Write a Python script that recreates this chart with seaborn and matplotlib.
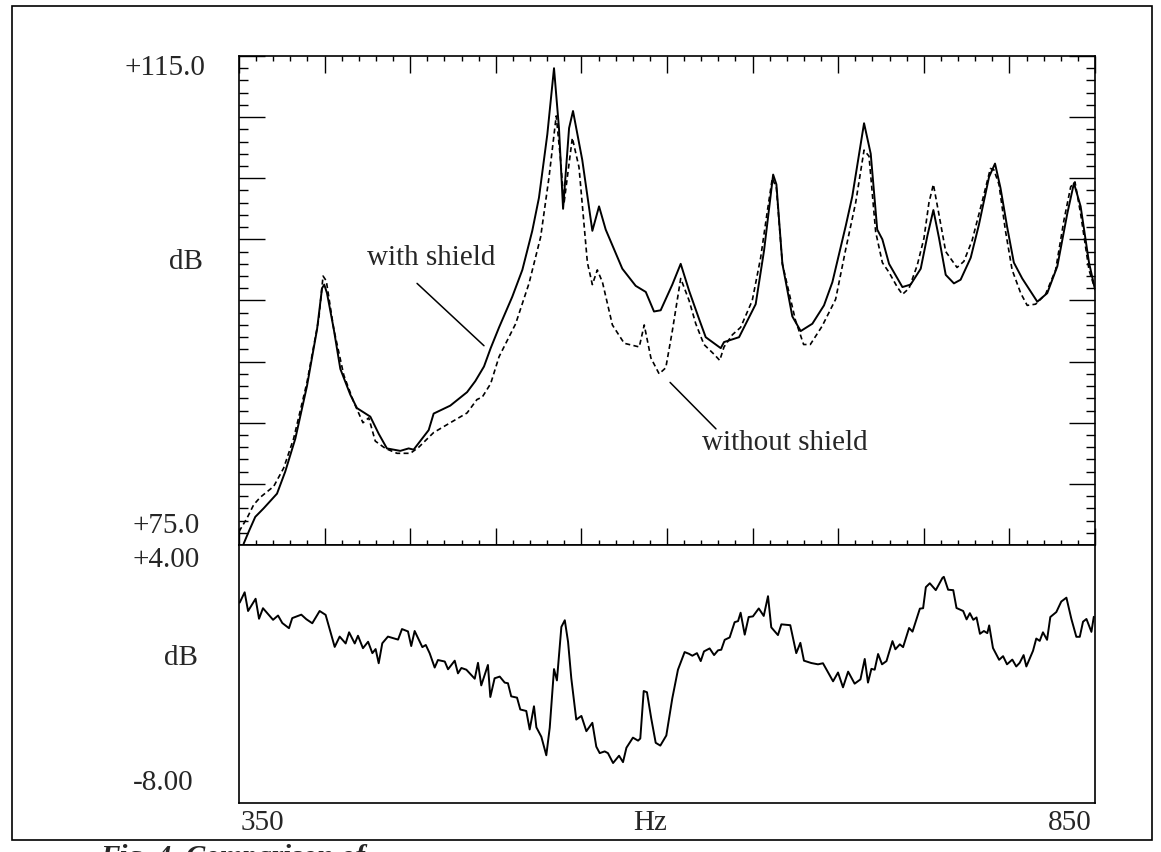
import matplotlib
matplotlib.use("Agg")
import matplotlib.pyplot as plt
import matplotlib.ticker as mticker
from matplotlib.patches import Rectangle
import seaborn as sns
import pandas as pd

# "with shield" spectrum (solid), Hz / dB
with_hz = [352.7, 355.7, 359.5, 364.4, 372.2, 377.0, 382.9, 389.7, 395.6, 398.5,
           399.8, 401.4, 405.3, 409.2, 415.0, 418.9, 426.7, 431.6, 436.4, 444.2,
           449.1, 452.0, 460.8, 463.7, 473.4, 483.2, 488.0, 493.1, 497.0, 501.9,
           509.6, 515.5, 521.3, 525.2, 530.1, 534.0, 536.9, 539.3, 542.8, 545.1,
           550.5, 556.4, 560.3, 564.2, 573.9, 581.7, 587.6, 592.4, 596.3, 603.1,
           608.0, 612.9, 618.7, 622.6, 631.4, 633.3, 642.1, 651.8, 656.7, 662.0,
           663.9, 667.4, 673.2, 678.1, 684.9, 691.7, 696.6, 704.4, 708.2, 715.1,
           719.0, 722.8, 725.8, 729.7, 737.5, 742.3, 748.2, 752.1, 755.6, 758.9,
           762.8, 767.6, 771.5, 777.4, 782.2, 788.1, 791.6, 794.8, 798.7, 802.6,
           807.5, 816.3, 822.1, 828.0, 833.8, 837.7, 841.6, 846.5, 850.0]
with_db = [75.1, 76.1, 77.3, 78.0, 79.2, 81.0, 83.7, 88.0, 92.65, 96.0,
           96.3, 95.6, 92.7, 89.4, 87.3, 86.2, 85.5, 84.1, 82.9, 82.7,
           82.9, 82.8, 84.4, 85.75, 86.4, 87.5, 88.4, 89.6, 91.1, 92.8,
           95.3, 97.5, 100.7, 103.4, 108.6, 114.0, 109.1, 102.5, 109.1, 110.5,
           106.5, 100.7, 102.7, 100.8, 97.6, 96.2, 95.7, 94.1, 94.2, 96.3,
           98.0, 95.8, 93.5, 92.0, 91.1, 91.6, 92.0, 94.7, 99.1, 105.3,
           104.5, 98.0, 93.7, 92.5, 93.1, 94.6, 96.5, 101.1, 103.5, 109.5,
           107.0, 100.8, 100.0, 98.0, 96.1, 96.3, 97.6, 100.3, 102.4, 100.1,
           97.1, 96.4, 96.7, 98.5, 101.2, 105.1, 106.2, 104.2, 101.0, 98.1,
           96.8, 94.9, 95.6, 97.8, 102.1, 104.6, 102.7, 98.1, 95.9]

# "without shield" spectrum (dashed)
without_hz = [350.0, 354.7, 358.6, 362.4, 370.3, 376.1, 381.9, 389.7, 396.6, 399.1,
              401.0, 405.3, 411.2, 417.0, 422.4, 425.8, 429.6, 435.5, 442.3, 450.1,
              455.0, 463.7, 473.4, 483.2, 489.0, 492.1, 497.0, 501.9, 511.6, 519.4,
              526.2, 531.1, 535.3, 537.9, 539.8, 544.7, 548.6, 553.5, 556.4, 559.3,
              562.3, 568.1, 575.0, 583.8, 586.7, 590.6, 595.4, 599.3, 603.1, 608.0,
              612.9, 616.8, 621.6, 627.5, 630.8, 633.3, 638.2, 643.0, 649.8, 654.7,
              658.6, 661.5, 663.9, 667.4, 675.0, 679.8, 683.7, 690.6, 698.5, 704.4,
              710.2, 715.1, 718.0, 721.9, 725.8, 729.7, 734.5, 737.5, 741.4, 746.2,
              750.1, 753.0, 755.6, 758.9, 762.8, 769.4, 773.4, 778.2, 784.1, 788.9,
              790.9, 793.9, 797.7, 801.6, 806.6, 810.4, 815.3, 821.1, 827.0, 831.9,
              835.8, 838.3, 841.6, 846.5, 849.4]
without_db = [76.1, 77.2, 78.3, 78.9, 79.8, 81.3, 83.7, 88.3, 93.5, 97.0,
              96.6, 92.7, 88.9, 86.7, 85.0, 85.4, 83.5, 82.9, 82.5, 82.5,
              83.0, 84.2, 85.0, 85.8, 86.9, 87.1, 88.2, 90.4, 93.1, 96.4,
              100.2, 105.1, 110.1, 106.4, 102.9, 108.3, 105.9, 98.1, 96.3, 97.5,
              96.5, 93.0, 91.5, 91.2, 93.0, 90.3, 89.0, 89.5, 92.5, 96.8,
              95.0, 93.1, 91.4, 90.6, 90.1, 91.2, 92.2, 92.8, 95.0, 98.5,
              102.3, 105.0, 104.2, 98.0, 93.4, 91.4, 91.4, 92.9, 95.1, 99.2,
              103.0, 107.3, 106.8, 100.6, 98.1, 97.3, 96.1, 95.5, 96.0, 97.9,
              100.1, 103.0, 104.5, 102.0, 99.0, 97.7, 98.2, 99.9, 103.1, 105.8,
              105.7, 104.5, 100.7, 97.5, 95.6, 94.6, 94.7, 95.5, 97.5, 101.6,
              104.3, 104.7, 102.1, 97.5, 96.2]

# lower panel trace, dB
diff_hz = [350.4, 353.3, 355.3, 359.7, 361.7, 364.0, 369.9, 372.8, 375.3, 379.2,
           381.1, 386.4, 389.3, 392.8, 397.1, 400.6, 405.9, 408.8, 412.3, 414.3,
           417.6, 419.5, 422.4, 425.4, 427.9, 429.8, 431.6, 433.7, 437.0, 442.9,
           445.2, 448.7, 450.6, 452.6, 457.1, 459.1, 461.4, 464.3, 466.2, 470.2,
           472.1, 476.0, 477.9, 479.9, 482.8, 487.7, 489.6, 491.5, 495.4, 496.8,
           499.3, 502.3, 505.2, 507.1, 509.0, 512.4, 514.3, 517.8, 519.8, 522.3,
           523.7, 526.6, 529.5, 531.5, 534.0, 535.7, 538.3, 540.3, 542.2, 544.1,
           547.0, 550.0, 552.9, 556.4, 558.7, 560.7, 563.6, 565.5, 568.5, 572.0,
           574.3, 576.3, 580.1, 583.1, 584.4, 586.4, 588.3, 590.8, 593.4, 596.1,
           599.6, 603.1, 606.4, 610.3, 612.8, 614.8, 617.5, 619.7, 621.6, 624.9,
           627.5, 629.8, 631.7, 633.7, 636.6, 639.5, 641.5, 643.0, 645.4, 647.7,
           650.2, 653.6, 656.5, 659.0, 660.9, 664.8, 666.8, 672.0, 675.5, 677.9,
           680.0, 684.3, 688.2, 691.1, 693.5, 697.0, 699.9, 702.8, 705.8, 709.6,
           713.0, 715.5, 717.4, 719.4, 721.3, 723.3, 725.6, 728.2, 731.7, 733.4,
           736.0, 737.9, 741.4, 743.4, 747.7, 749.6, 751.2, 753.5, 757.0, 760.9,
           761.7, 764.2, 767.2, 769.1, 773.0, 775.0, 776.9, 778.9, 780.8, 782.8,
           785.1, 787.1, 788.2, 790.4, 794.0, 796.3, 798.6, 801.7, 804.0, 806.0,
           808.3, 809.9, 813.8, 815.7, 817.7, 819.6, 822.0, 823.9, 827.4, 830.3,
           833.3, 836.2, 839.1, 841.1, 843.0, 845.0, 847.9, 849.3]
diff_db = [1.32, 1.8, 0.93, 1.5, 0.57, 1.06, 0.52, 0.72, 0.37, 0.13,
           0.6, 0.76, 0.55, 0.36, 0.93, 0.75, -0.74, -0.26, -0.58, -0.06,
           -0.58, -0.22, -0.8, -0.5, -1.03, -0.84, -1.5, -0.57, -0.26, -0.4,
           0.09, -0.02, -0.7, 0.0, -0.75, -0.65, -1.04, -1.7, -1.35, -1.42,
           -1.78, -1.38, -1.97, -1.72, -1.8, -2.22, -1.48, -2.53, -1.58, -3.07,
           -2.2, -2.12, -2.4, -2.43, -3.04, -3.1, -3.65, -3.72, -4.58, -3.5,
           -4.48, -4.92, -5.78, -4.5, -1.77, -2.3, 0.19, 0.5, -0.5, -2.2,
           -4.12, -3.95, -4.66, -4.27, -5.38, -5.68, -5.6, -5.68, -6.14, -5.8,
           -6.1, -5.43, -4.96, -5.1, -5.0, -2.79, -2.85, -4.07, -5.2, -5.33,
           -4.86, -3.13, -1.8, -0.98, -1.06, -1.15, -1.03, -1.4, -0.95, -0.81,
           -1.12, -0.9, -0.87, -0.41, -0.3, 0.41, 0.46, 0.85, -0.17, 0.65,
           0.68, 1.05, 0.7, 1.62, 0.17, -0.19, 0.31, 0.27, -1.03, -0.55,
           -1.38, -1.49, -1.55, -1.5, -1.84, -2.34, -1.93, -2.62, -1.89, -2.45,
           -2.25, -1.3, -2.4, -1.76, -1.8, -1.07, -1.55, -1.4, -0.47, -0.85,
           -0.62, -0.75, 0.14, -0.03, 1.04, 1.06, 2.04, 2.22, 1.9, 2.47,
           2.52, 1.92, 1.9, 1.07, 0.93, 0.54, 0.83, 0.52, 0.63, -0.13,
           0.0, -0.1, 0.26, -0.79, -1.34, -1.17, -1.55, -1.33, -1.65, -1.48,
           -1.12, -1.65, -0.92, -0.35, -0.46, -0.06, -0.41, 0.65, 0.88, 1.37,
           1.55, 0.56, -0.27, -0.27, 0.43, 0.56, -0.04, 0.66]

sns.set_style("white")
plt.rcParams["font.family"] = ["Liberation Serif", "DejaVu Serif"]
FS = 21

W, H = 1161, 852
def fx(x):
    return x / W
def fy(y):
    return 1 - y / H

fig = plt.figure(figsize=(W / 100, H / 100), dpi=100)
fig.patch.set_facecolor("white")

left, right = 239, 1095
ax = fig.add_axes([fx(left), fy(545), (right - left) / W, (545 - 56) / H])
ax2 = fig.add_axes([fx(left), fy(803), (right - left) / W, (803 - 545) / H])

top_df = pd.DataFrame({"Hz": with_hz, "dB": with_db})
sns.lineplot(data=top_df, x="Hz", y="dB", ax=ax, color="black", linewidth=1.4,
             errorbar=None)
no_df = pd.DataFrame({"Hz": without_hz, "dB": without_db})
sns.lineplot(data=no_df, x="Hz", y="dB", ax=ax, color="black", linewidth=1.2,
             linestyle=(0, (3.0, 2.0)), errorbar=None)

ax.set_xlim(350, 850)
ax.set_ylim(75, 115)
ax.xaxis.set_major_locator(mticker.MultipleLocator(50))
ax.xaxis.set_minor_locator(mticker.MultipleLocator(10))
ax.yaxis.set_major_locator(mticker.MultipleLocator(5))
ax.yaxis.set_minor_locator(mticker.MultipleLocator(1))
ax.tick_params(axis="x", which="both", direction="in", top=True, bottom=True,
               labelbottom=False, labeltop=False, color="black", width=1.0)
ax.tick_params(axis="x", which="major", length=12)
ax.tick_params(axis="x", which="minor", length=3.8)
ax.tick_params(axis="y", which="both", direction="in", left=True, right=True,
               labelleft=False, labelright=False, color="black", width=1.0)
ax.tick_params(axis="y", which="major", length=19)
ax.tick_params(axis="y", which="minor", length=6.5)
ax.set_xlabel("")
ax.set_ylabel("")

# leader lines for the two curve labels
ax.annotate("", xy=(493.1, 91.3), xytext=(454.0, 96.4),
            arrowprops=dict(arrowstyle="-", color="black", lw=1.1,
                            shrinkA=0, shrinkB=0))
ax.annotate("", xy=(628.6, 84.5), xytext=(601.8, 88.3),
            arrowprops=dict(arrowstyle="-", color="black", lw=1.1,
                            shrinkA=0, shrinkB=0))
ax.text(424.8, 97.9, "with shield", fontsize=FS, ha="left", va="baseline")
ax.text(620.4, 82.8, "without shield", fontsize=FS, ha="left", va="baseline")

bot_df = pd.DataFrame({"Hz": diff_hz, "dB": diff_db})
sns.lineplot(data=bot_df, x="Hz", y="dB", ax=ax2, color="black", linewidth=1.4,
             errorbar=None)
ax2.set_xlim(350, 850)
ax2.set_ylim(-8, 4)
ax2.set_xticks([])
ax2.set_yticks([])
ax2.set_xlabel("")
ax2.set_ylabel("")

for a in (ax, ax2):
    for s in a.spines.values():
        s.set_color("black")
        s.set_linewidth(1.2)

# axis annotations, placed as on the original figure
fig.text(fx(205), fy(68), "+115.0", fontsize=FS, ha="right", va="center")
fig.text(fx(203), fy(262), "dB", fontsize=FS, ha="right", va="center")
fig.text(fx(200), fy(526), "+75.0", fontsize=FS, ha="right", va="center")
fig.text(fx(200), fy(560), "+4.00", fontsize=FS, ha="right", va="center")
fig.text(fx(198), fy(658), "dB", fontsize=FS, ha="right", va="center")
fig.text(fx(194), fy(783), "-8.00", fontsize=FS, ha="right", va="center")
fig.text(fx(241), fy(823), "350", fontsize=FS, ha="left", va="center")
fig.text(fx(650), fy(823), "Hz", fontsize=FS, ha="center", va="center")
fig.text(fx(1092), fy(823), "850", fontsize=FS, ha="right", va="center")

# outer frame and the caption, which the scan cuts off at the bottom edge
fig.patches.append(Rectangle((fx(12), fy(840)), (1152 - 12) / W, (840 - 6) / H,
                             transform=fig.transFigure, fill=False,
                             edgecolor="black", linewidth=1.2))
fig.text(fx(100), fy(844), "Fig. 4. Comparison of", fontsize=FS, ha="left",
         va="top", style="italic", weight="bold")

fig.savefig("out.png", dpi=100)
